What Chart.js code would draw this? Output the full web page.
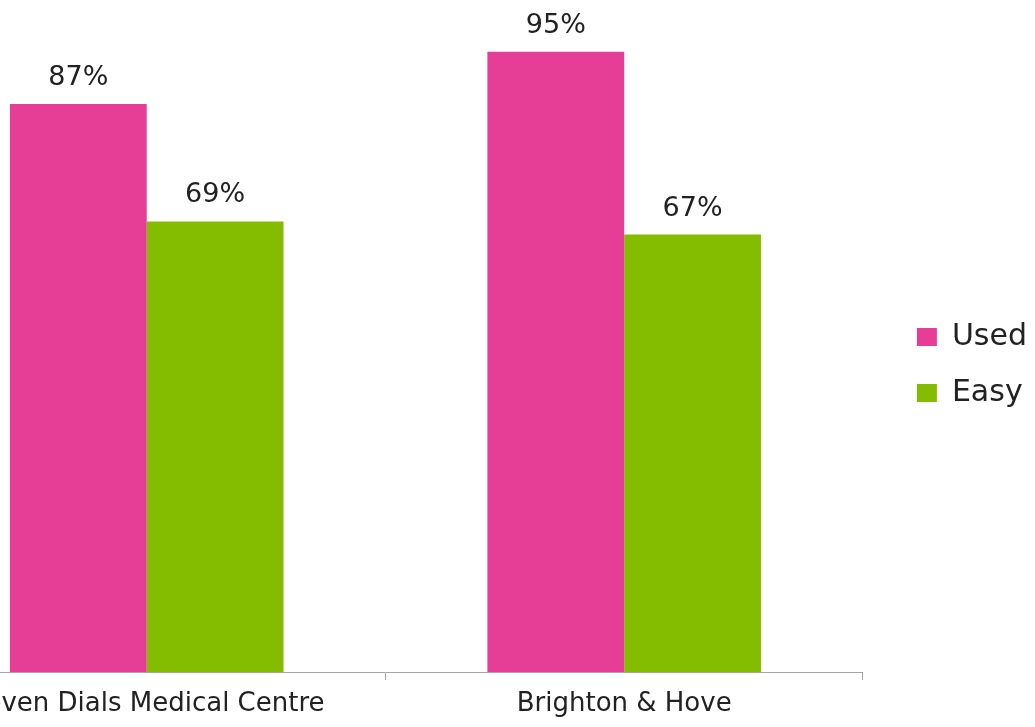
<!DOCTYPE html>
<html>
<head>
<meta charset="utf-8">
<script src="https://cdn.jsdelivr.net/npm/chart.js@4.4.1/dist/chart.umd.min.js"></script>
<style>
  html, body { margin: 0; padding: 0; background: #fff; overflow: hidden; width: 1035px; height: 727px; }
  #wrap { position: absolute; left: -92px; top: 0; }
</style>
</head>
<body>
<div id="wrap"><canvas id="barChart" width="1129" height="727"></canvas></div>
<script>
// Data
const categories = ['Seven Dials Medical Centre', 'Brighton & Hove'];
const usedValues = [87, 95];
const easyValues = [69, 67];
const seriesNames = ['Used', 'Easy'];
const seriesColors = ['#E63E97', '#84BC00'];

// simple data labels above each bar
const barLabels = {
    id: 'barLabels',
    afterDatasetsDraw(chart) {
        const ctx = chart.ctx;
        ctx.save();
        ctx.font = '27px "DejaVu Sans"';
        ctx.fillStyle = '#222';
        ctx.textAlign = 'center';
        ctx.textBaseline = 'alphabetic';
        chart.data.datasets.forEach((ds, i) => {
            chart.getDatasetMeta(i).data.forEach((bar, j) => {
                ctx.fillText(ds.data[j] + '%', bar.x, bar.y - 19);
            });
        });
        ctx.restore();
    }
};

const barCtx = document.getElementById('barChart').getContext('2d');
new Chart(barCtx, {
    type: 'bar',
    data: {
        labels: categories,
        datasets: [{
            label: seriesNames[0],
            data: usedValues,
            backgroundColor: seriesColors[0]
        }, {
            label: seriesNames[1],
            data: easyValues,
            backgroundColor: seriesColors[1]
        }]
    },
    options: {
        responsive: false,
        animation: false,
        categoryPercentage: 0.573,
        barPercentage: 1,
        layout: { padding: { top: 6, bottom: 3, left: 0, right: 0 } },
        plugins: {
            legend: {
                position: 'right',
                labels: {
                    boxWidth: 20,
                    boxHeight: 18,
                    padding: 26,
                    color: '#222',
                    font: { family: 'DejaVu Sans', size: 30 }
                }
            },
            tooltip: { enabled: false }
        },
        scales: {
            x: {
                grid: { drawOnChartArea: false, drawTicks: true, tickLength: 8, color: '#a6a6a6' },
                border: { display: true, color: '#a6a6a6', width: 1 },
                ticks: { color: '#222', padding: 9, font: { family: 'DejaVu Sans', size: 26 } },
                afterFit(scale) { scale.height = 52; }
            },
            y: {
                position: 'right',
                min: 0,
                max: 102,
                grid: { display: false },
                border: { display: false },
                ticks: { display: false },
                afterFit(scale) { scale.width = 28; }
            }
        }
    },
    plugins: [barLabels]
});
</script>
</body>
</html>
